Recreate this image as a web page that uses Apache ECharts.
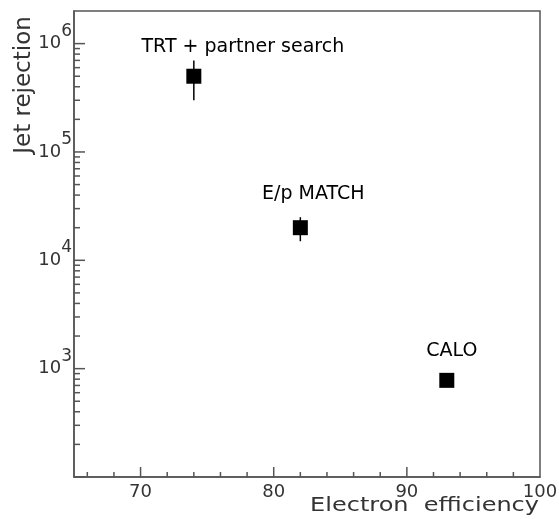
<!DOCTYPE html>
<html>
<head>
<meta charset="utf-8">
<script src="https://cdn.jsdelivr.net/npm/echarts@6/dist/echarts.min.js"></script>
<style>html,body{margin:0;padding:0;background:#fff}#c{width:559px;height:519px}</style>
</head>
<body>
<div id="c"></div>
<script>
// ---- data ----
const pointNames = ['TRT + partner search', 'E/p MATCH', 'CALO'];
const efficiency = [74, 82, 93];
const rejection = [5e5, 2e4, 780];
const rejLow = [3e5, 1.5e4, 780];
const rejHigh = [7e5, 2.5e4, 780];
const xMajorTicks = [70, 80, 90];
const xMinorTicks = [66, 68, 72, 74, 76, 78, 82, 84, 86, 88, 92, 94, 96, 98];
const yMajorTicks = [100, 1000, 10000, 100000, 1000000];
const yMinorMultipliers = [2, 3, 4, 5, 6, 7, 8, 9];
const xMin = 65, xMax = 100, yMin = 100, yMax = 2e6;

const axisColor = '#555';
const textColor = '#333';
const font = 'DejaVu Sans';

const tickData = [];
xMajorTicks.forEach(v => tickData.push([v, yMin, 10, 0]));
xMinorTicks.forEach(v => tickData.push([v, yMin, 5, 0]));
yMajorTicks.forEach(v => tickData.push([xMin, v, 11, 1]));
yMajorTicks.forEach(d => yMinorMultipliers.forEach(m => { const v = d * m; if (v < yMax) tickData.push([xMin, v, 6, 1]); }));

const labelOffsets = [[49, -29], [13, -34], [5, -29]];
const scatterData = efficiency.map((x, i) => ({
  value: [x, rejection[i]],
  label: { show: true, formatter: pointNames[i], offset: labelOffsets[i] }
}));
const errData = efficiency.map((x, i) => [x, rejLow[i], rejHigh[i]]);

const chart = echarts.init(document.getElementById('c'));
chart.setOption({
  animation: false,
  backgroundColor: '#fff',
  grid: { left: 74, right: 19, top: 11, bottom: 42, show: true, borderColor: axisColor, borderWidth: 1.5, containLabel: false, outerBoundsMode: 'none' },
  xAxis: {
    type: 'value', min: xMin, max: xMax, interval: 5,
    axisLine: { show: true, lineStyle: { color: axisColor, width: 1.5 } },
    axisTick: { show: false }, splitLine: { show: false },
    axisLabel: { color: textColor, fontFamily: font, fontSize: 18, margin: 6,
      formatter: v => (v % 10 === 0 ? String(v) : '') }
  },
  yAxis: {
    type: 'log', logBase: 10, min: yMin, max: yMax,
    axisLine: { show: true, lineStyle: { color: axisColor, width: 1.5 } },
    axisTick: { show: false }, splitLine: { show: false }, minorTick: { show: false },
    axisLabel: {
      margin: 2, showMaxLabel: false,
      formatter: v => {
        const l = Math.log10(v), e = Math.round(l);
        if (Math.abs(l - e) > 1e-6 || e < 3) return '';
        return '{b|10}{s|' + e + '}';
      },
      rich: {
        b: { color: textColor, fontFamily: font, fontSize: 18, lineHeight: 42, verticalAlign: 'middle' },
        s: { color: textColor, fontFamily: font, fontSize: 17, verticalAlign: 'top' }
      }
    }
  },
  graphic: [
    { type: 'text', x: 24, y: 85, rotation: Math.PI / 2,
      style: { text: 'Jet rejection', fill: textColor, font: '23px "DejaVu Sans"', align: 'center', verticalAlign: 'middle' } },
    { type: 'text', x: 539, y: 506, scaleX: 1.2,
      style: { text: 'Electron  efficiency', fill: textColor, font: '20px "DejaVu Sans"', align: 'right', verticalAlign: 'middle' } }
  ],
  series: [
    {
      type: 'custom', silent: true, clip: false, z: 5,
      encode: { x: 0, y: 1 },
      data: tickData,
      renderItem: (params, api) => {
        const p = api.coord([api.value(0), api.value(1)]);
        const len = api.value(2), dir = api.value(3);
        const shape = dir === 0
          ? { x1: p[0], y1: p[1], x2: p[0], y2: p[1] - len }
          : { x1: p[0], y1: p[1], x2: p[0] + len, y2: p[1] };
        return { type: 'line', shape, style: { stroke: axisColor, lineWidth: 1.5 } };
      }
    },
    {
      type: 'custom', silent: true, z: 6,
      encode: { x: 0, y: [1, 2] },
      data: errData,
      renderItem: (params, api) => {
        const a = api.coord([api.value(0), api.value(1)]);
        const b = api.coord([api.value(0), api.value(2)]);
        return { type: 'line', shape: { x1: a[0], y1: a[1], x2: b[0], y2: b[1] }, style: { stroke: '#000', lineWidth: 1.5 } };
      }
    },
    {
      type: 'scatter', symbol: 'rect', symbolSize: 15, z: 7,
      itemStyle: { color: '#000', opacity: 1 },
      label: { position: 'inside', color: '#000', fontFamily: font, fontSize: 19 },
      data: scatterData
    }
  ]
});
</script>
</body>
</html>
